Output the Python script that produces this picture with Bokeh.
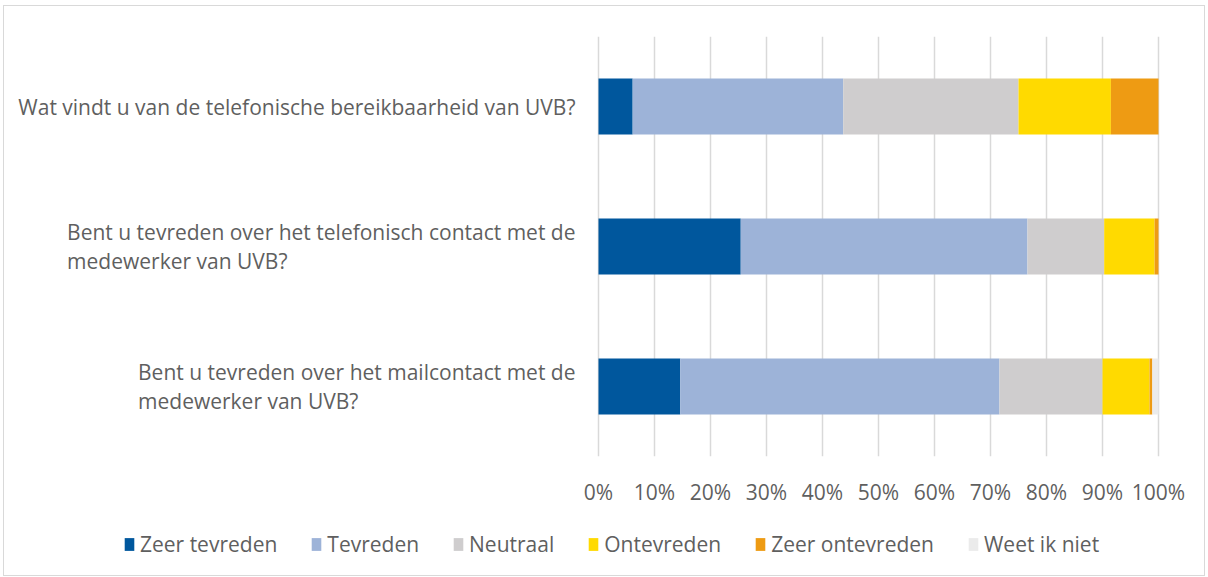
from bokeh.plotting import figure
from bokeh.layouts import column
from bokeh.core.properties import value
from bokeh.models import (FactorRange, Range1d, Legend, LegendItem, NumeralTickFormatter,
                          FixedTicker, LabelSet, ColumnDataSource)
from bokeh.embed import file_html
from bokeh.resources import INLINE

questions = [
    "Wat vindt u van de telefonische bereikbaarheid van UVB?",
    "Bent u tevreden over het telefonisch contact met de medewerker van UVB?",
    "Bent u tevreden over het mailcontact met de medewerker van UVB?",
]
question_labels = [
    "Wat vindt u van de telefonische bereikbaarheid van UVB?",
    "Bent u tevreden over het telefonisch contact met de\nmedewerker van UVB?",
    "Bent u tevreden over het mailcontact met de\nmedewerker van UVB?",
]
series = ["Zeer tevreden", "Tevreden", "Neutraal", "Ontevreden", "Zeer ontevreden", "Weet ik niet"]
zeer_tevreden = [0.061, 0.254, 0.146]
tevreden = [0.376, 0.512, 0.570]
neutraal = [0.313, 0.137, 0.184]
ontevreden = [0.165, 0.090, 0.084]
zeer_ontevreden = [0.085, 0.007, 0.005]
weet_ik_niet = [0.000, 0.000, 0.011]
colors = ["#00579d", "#9db3d8", "#cfcdce", "#ffda00", "#ee9b13", "#ebebeb"]
x_ticks = [0, 0.1, 0.2, 0.3, 0.4, 0.5, 0.6, 0.7, 0.8, 0.9, 1.0]

data = {"q": questions}
for name, vals in zip(series, [zeer_tevreden, tevreden, neutraal, ontevreden, zeer_ontevreden, weet_ik_niet]):
    data[name] = vals

FONT = "Open Sans"
GREY = "#5f5f5f"
FS = "21px"

W = 1200
H_MAIN, H_LEG = 512, 57
LEFT_PX, RIGHT_PX = 594, 46          # space left / right of the 0..100% scale
SCALE_PX = W - LEFT_PX - RIGHT_PX
x_start = -LEFT_PX / SCALE_PX
x_end = 1 + RIGHT_PX / SCALE_PX

p = figure(
    width=W, height=H_MAIN,
    y_range=FactorRange(*reversed(questions), range_padding=0),
    x_range=Range1d(x_start, x_end),
    output_backend="svg", toolbar_location=None,
    min_border_left=0, min_border_right=0, min_border_top=30, min_border_bottom=62,
)
p.outline_line_color = None

renderers = p.hbar_stack(series, y="q", height=0.4, color=colors, line_color=None, source=data)

p.xaxis.ticker = FixedTicker(ticks=x_ticks)
p.xaxis.bounds = (0, 1)
p.xaxis.formatter = NumeralTickFormatter(format="0%")
p.xaxis.axis_line_color = None
p.xaxis.major_tick_line_color = None
p.xaxis.minor_tick_line_color = None
p.xaxis.major_label_standoff = 15
p.xaxis.major_label_text_font = FONT
p.xaxis.major_label_text_font_size = FS
p.xaxis.major_label_text_color = GREY

p.yaxis.visible = False

p.xgrid.grid_line_color = "#d9d9d9"
p.xgrid.grid_line_width = 1.5
p.ygrid.grid_line_color = None

label_src = ColumnDataSource(dict(x=[0] * len(questions), q=questions, text=question_labels))
labels = LabelSet(x="x", y="q", text="text", source=label_src, x_offset=-23,
                  text_align="right", text_baseline="middle",
                  text_font=value(FONT), text_font_size=value(FS), text_color=GREY,
                  text_line_height=1.02)
p.add_layout(labels)

# legend strip below the chart (swatches use the same series colours, zero-size marks)
p2 = figure(width=W, height=H_LEG, x_range=(0, 1), y_range=(0, 1),
            output_backend="svg", toolbar_location=None,
            min_border_left=0, min_border_right=0, min_border_top=0, min_border_bottom=0)
p2.axis.visible = False
p2.grid.grid_line_color = None
p2.outline_line_color = None
swatches = [p2.quad(left=[0], right=[0], top=[0], bottom=[0], color=c, line_color=None) for c in colors]

items = [LegendItem(label=s, renderers=[r]) for s, r in zip(series, swatches)]
legend = Legend(
    items=items, orientation="horizontal", location=(119, 17),
    padding=0, margin=0, spacing=33, label_standoff=5,
    glyph_width=12, glyph_height=16,
    label_text_font=FONT, label_text_font_size=FS, label_text_color=GREY,
    background_fill_alpha=0, border_line_color=None,
)
p2.add_layout(legend, "center")

layout = column(p, p2, spacing=0)
layout.styles = {"border": "1px solid #d9d9d9", "margin-left": "3px", "margin-top": "5px"}

open("out.html", "w").write(file_html(layout, INLINE))
